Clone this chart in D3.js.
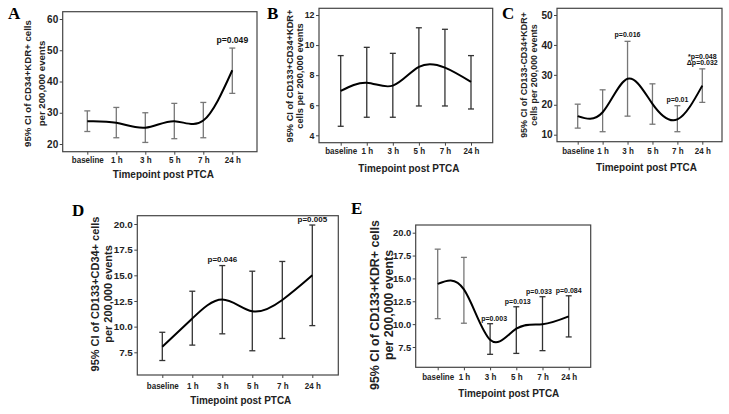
<!DOCTYPE html>
<html><head><meta charset="utf-8">
<script src="https://cdn.jsdelivr.net/npm/d3@7"></script>
<style>
html,body{margin:0;padding:0;background:#fff;}
svg{display:block;font-family:Arial,"Liberation Sans",sans-serif;}
</style></head>
<body>
<svg id="c" width="729" height="414"></svg>
<script>
const categories = ["baseline","1 h","3 h","5 h","7 h","24 h"];

const A_mean = [27.3, 26.8, 25.2, 27.3, 27.5, 43.6];
const A_lo   = [24.0, 22.0, 20.5, 21.7, 22.0, 36.2];
const A_hi   = [30.6, 31.7, 30.0, 33.0, 33.3, 50.7];
const A_ticks = [20, 30, 40, 50, 60];

const B_mean = [6.95, 7.5, 7.3, 8.55, 8.5, 7.55];
const B_lo   = [4.6, 5.2, 5.2, 5.95, 5.95, 5.75];
const B_hi   = [9.3, 9.85, 9.45, 11.15, 11.05, 9.3];
const B_ticks = [4, 6, 8, 10, 12];

const C_mean = [16.2, 17.5, 28.7, 20.3, 15.1, 26.4];
const C_lo   = [12.2, 11.0, 16.2, 13.5, 11.0, 20.8];
const C_hi   = [20.2, 25.0, 41.2, 27.0, 19.7, 32.0];
const C_ticks = [10, 20, 30, 40, 50];

const D_mean = [8.05, 10.8, 12.65, 11.5, 12.6, 15.0];
const D_lo   = [6.7, 8.2, 9.3, 7.65, 8.85, 10.1];
const D_hi   = [9.45, 13.45, 15.95, 15.4, 16.35, 19.9];
const D_ticks = [7.5, 10.0, 12.5, 15.0, 17.5, 20.0];

const E_mean = [14.4, 13.8, 8.3, 9.5, 10.0, 10.85];
const E_lo   = [10.6, 10.1, 6.7, 6.8, 7.1, 8.6];
const E_hi   = [18.2, 17.3, 10.05, 11.9, 13.0, 13.1];
const E_ticks = [7.5, 10.0, 12.5, 15.0, 17.5, 20.0];

const A_pvals = [null, null, null, null, null, ["p=0.049"]];
const B_pvals = [null, null, null, null, null, null];
const C_pvals = [null, null, ["p=0.016"], null, ["p=0.01"], ["*p=0.048", "\u0394p=0.032"]];
const D_pvals = [null, null, ["p=0.046"], null, null, ["p=0.005"]];
const E_pvals = [null, null, ["p=0.003"], ["p=0.013"], ["p=0.033"], ["p=0.084"]];

const A_ytitle = ["95% CI of CD34+KDR+ cells", "per 200,000 events"];
const B_ytitle = ["95% CI of CD133+CD34+KDR+", "cells per 200,000 events"];
const C_ytitle = ["95% CI of CD133-CD34+KDR+", "cells per 200,000 events"];
const D_ytitle = ["95% CI of CD133+CD34+ cells", "per 200,000 events"];
const E_ytitle = ["95% CI of CD133+KDR+ cells", "per 200,000 events"];
const xTitle = "Timepoint post PTCA";

const svg = d3.select("#c");

// scale a set of texts horizontally so that a reference text gets the given width
function fitWidth(sel, refNode, target) {
  const f = target / refNode.getComputedTextLength();
  sel.each(function () {
    const L = this.getComputedTextLength();
    d3.select(this).attr("textLength", L * f).attr("lengthAdjust", "spacingAndGlyphs");
  });
}

function panel(o) {
  const g = svg.append("g");
  const x = d3.scalePoint().domain(categories).range([o.x0, o.x1]);
  const y = d3.scaleLinear().domain(o.ydom).range(o.yrng);
  // frame
  g.append("rect").attr("x", o.L).attr("y", o.T).attr("width", o.R - o.L).attr("height", o.B - o.T)
    .attr("fill", "none").attr("stroke", "#444").attr("stroke-width", 1.2);
  // y axis
  const ya = g.append("g").attr("transform", `translate(${o.L},0)`)
    .call(d3.axisLeft(y).tickValues(o.ticks).tickFormat(o.fmt).tickSize(3).tickPadding(1.5));
  ya.attr("font-family", null);
  ya.select(".domain").remove();
  ya.selectAll("line").attr("stroke", "#444");
  ya.selectAll("text").attr("font-size", o.tfs).attr("font-weight", "bold").attr("fill", "#222");
  // x axis
  const xa = g.append("g").attr("transform", `translate(0,${o.B})`)
    .call(d3.axisBottom(x).tickSize(3).tickPadding(o.xpad));
  xa.attr("font-family", null);
  xa.select(".domain").remove();
  xa.selectAll("line").attr("stroke", "#444");
  const xt = xa.selectAll("text").attr("font-size", 9.3).attr("font-weight", "bold").attr("fill", "#222");
  fitWidth(xt, xt.nodes()[0], 32);
  // x title
  const tt = g.append("text").attr("x", (o.L + o.R) / 2 + o.xtdx).attr("y", o.xty)
    .attr("text-anchor", "middle").attr("font-size", 11).attr("font-weight", "bold").attr("fill", "#222")
    .text(xTitle);
  fitWidth(tt, tt.node(), 101);
  // y title: font size fitted to measured first-line length
  const probe = g.append("text").attr("font-size", 10).attr("font-weight", "bold").text(o.ytitle[0]);
  const fs = 10 * o.ytlen / probe.node().getComputedTextLength();
  probe.remove();
  o.ytitle.forEach((t, i) => {
    g.append("text").attr("transform", `translate(${o.ytx[i] + 0.35 * fs},${o.yty}) rotate(-90)`)
      .attr("text-anchor", "middle").attr("font-size", fs).attr("font-weight", "bold").attr("fill", "#222")
      .text(t);
  });
  // error bars
  const cap = 3;
  categories.forEach((c, i) => {
    const cx = x(c);
    const col = o.ebc[i];
    g.append("line").attr("x1", cx).attr("x2", cx).attr("y1", y(o.lo[i])).attr("y2", y(o.hi[i]))
      .attr("stroke", col).attr("stroke-width", 1.3);
    [o.lo[i], o.hi[i]].forEach(v => {
      g.append("line").attr("x1", cx - cap).attr("x2", cx + cap).attr("y1", y(v)).attr("y2", y(v))
        .attr("stroke", col).attr("stroke-width", 1.3);
    });
  });
  // curve
  const line = d3.line().x((d, i) => x(categories[i])).y(d => y(d)).curve(d3.curveNatural);
  g.append("path").attr("d", line(o.mean)).attr("fill", "none").attr("stroke", "#000").attr("stroke-width", 2);
  // p labels
  o.pv.forEach((arr, i) => {
    if (!arr) return;
    const cx = x(categories[i]) + (o.pdx ? o.pdx[i] : 0);
    const base = y(o.hi[i]) - o.poff;
    arr.slice().reverse().forEach((t, k) => {
      g.append("text").attr("x", cx).attr("y", base - k * o.plh)
        .attr("text-anchor", "middle").attr("font-size", o.pfs).attr("font-weight", "bold").attr("fill", "#111")
        .text(t);
    });
  });
  // letter
  g.append("text").attr("x", o.lx).attr("y", o.ly).attr("font-family", "'Liberation Serif','Times New Roman',serif")
    .attr("font-weight", "bold").attr("font-size", 17).attr("fill", "#000").text(o.letter);
}

const f0 = d3.format("d"), f1 = d3.format(".1f");

panel({letter:"A", lx:8, ly:19, L:62.7, R:257, T:11.7, B:151.7, x0:87.3, x1:232.3,
  ydom:[20,60], yrng:[144,19], ticks:A_ticks, fmt:f0, mean:A_mean, lo:A_lo, hi:A_hi, pv:A_pvals,
  ebc:["#777","#777","#777","#777","#777","#777"], ytitle:A_ytitle, ytx:[28,41.7], yty:83.5, ytlen:127,
  tfs:10, xpad:1.5, xty:178, xtdx:3.5, pfs:8.6, plh:7, poff:5});

panel({letter:"B", lx:267, ly:19, L:319, R:492.7, T:8.3, B:142.7, x0:340.7, x1:471,
  ydom:[4,12], yrng:[135.3,15], ticks:B_ticks, fmt:f0, mean:B_mean, lo:B_lo, hi:B_hi, pv:B_pvals,
  ebc:["#333","#333","#333","#333","#333","#333"], ytitle:B_ytitle, ytx:[289.3,300], yty:76, ytlen:133,
  tfs:8.8, xpad:2, xty:172, xtdx:3, pfs:8, plh:7, poff:4});

panel({letter:"C", lx:502, ly:19, L:557, R:722, T:8.3, B:141.7, x0:577.7, x1:702.3,
  ydom:[10,50], yrng:[134.7,15], ticks:C_ticks, fmt:f0, mean:C_mean, lo:C_lo, hi:C_hi, pv:C_pvals,
  ebc:["#777","#777","#777","#777","#777","#777"], ytitle:C_ytitle, ytx:[524,534], yty:75, ytlen:126,
  tfs:10, xpad:3, xty:170.7, xtdx:7, pfs:7, plh:6, poff:4});

panel({letter:"D", lx:72, ly:216, L:137.3, R:338.3, T:215.7, B:375, x0:162.3, x1:312.3,
  ydom:[7.5,20], yrng:[352.3,224], ticks:D_ticks, fmt:f1, mean:D_mean, lo:D_lo, hi:D_hi, pv:D_pvals,
  ebc:["#333","#333","#333","#333","#333","#333"], ytitle:D_ytitle, ytx:[95,108.3], yty:294, ytlen:155,
  tfs:9.8, xpad:4, xty:404, xtdx:3, pfs:8, plh:7, poff:3.5});

panel({letter:"E", lx:351, ly:214, L:415.7, R:590.7, T:225, B:367.3, x0:437.7, x1:568.7,
  ydom:[7.5,20], yrng:[347,232.7], ticks:E_ticks, fmt:f1, mean:E_mean, lo:E_lo, hi:E_hi, pv:E_pvals,
  ebc:["#777","#777","#333","#333","#333","#333"], ytitle:E_ytitle, ytx:[375,388.3], yty:305, ytlen:170,
  tfs:9.4, xpad:3, xty:396.7, xtdx:5.6, pfs:7, plh:7, poff:3, pdx:[0,0,4,1.5,-3.5,0]});
</script>
</body></html>
